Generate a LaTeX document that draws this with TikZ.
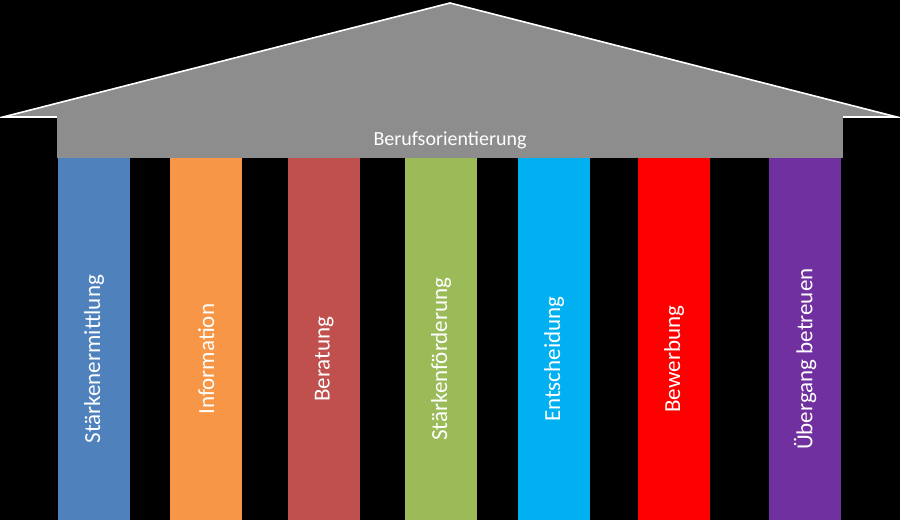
\documentclass[tikz,border=0pt]{standalone}
\usepackage{fontspec}
\setmainfont{Carlito}
\begin{document}
\begin{tikzpicture}[x=1pt,y=-1pt,
  pillar/.style={inner sep=0pt,minimum width=72pt,minimum height=362pt,anchor=north west},
  ptext/.style={rotate=90,text=white,font=\fontsize{23}{26}\selectfont}]
\useasboundingbox (0,0) rectangle (900,520);
\fill[black] (0,0) rectangle (900,520);
\fill[gray!95!black!85,draw=white,line width=1.6pt] (3,117) -- (450,3) -- (897,117) -- cycle;
\fill[gray!95!black!85] (57,116.2) rectangle (843,158);
\node[text=white,font=\fontsize{20}{24}\selectfont] (roof) at (450,140) {Berufsorientierung};
\definecolor{c1}{HTML}{4F81BD}\definecolor{c2}{HTML}{F79646}\definecolor{c3}{HTML}{C0504D}
\definecolor{c4}{HTML}{9BBB59}\definecolor{c5}{HTML}{00B0F0}\definecolor{c6}{HTML}{FF0000}\definecolor{c7}{HTML}{7030A0}
\node[pillar,fill=c1] (p1) at (58,158) {};
\node[pillar,fill=c2] (p2) at (170,158) {};
\node[pillar,fill=c3] (p3) at (288,158) {};
\node[pillar,fill=c4] (p4) at (405,158) {};
\node[pillar,fill=c5] (p5) at (518,158) {};
\node[pillar,fill=c6] (p6) at (638,158) {};
\node[pillar,fill=c7] (p7) at (769,158) {};
\node[ptext] (t1) at ([yshift=-20]p1.center) {Stärkenermittlung};
\node[ptext] (t2) at ([yshift=-20]p2.center) {Information};
\node[ptext] (t3) at ([yshift=-20]p3.center) {Beratung};
\node[ptext] (t4) at ([yshift=-20]p4.center) {Stärkenförderung};
\node[ptext] (t5) at ([yshift=-20]p5.center) {Entscheidung};
\node[ptext] (t6) at ([yshift=-20]p6.center) {Bewerbung};
\node[ptext] (t7) at ([yshift=-20]p7.center) {Übergang betreuen};
\end{tikzpicture}
\end{document}
